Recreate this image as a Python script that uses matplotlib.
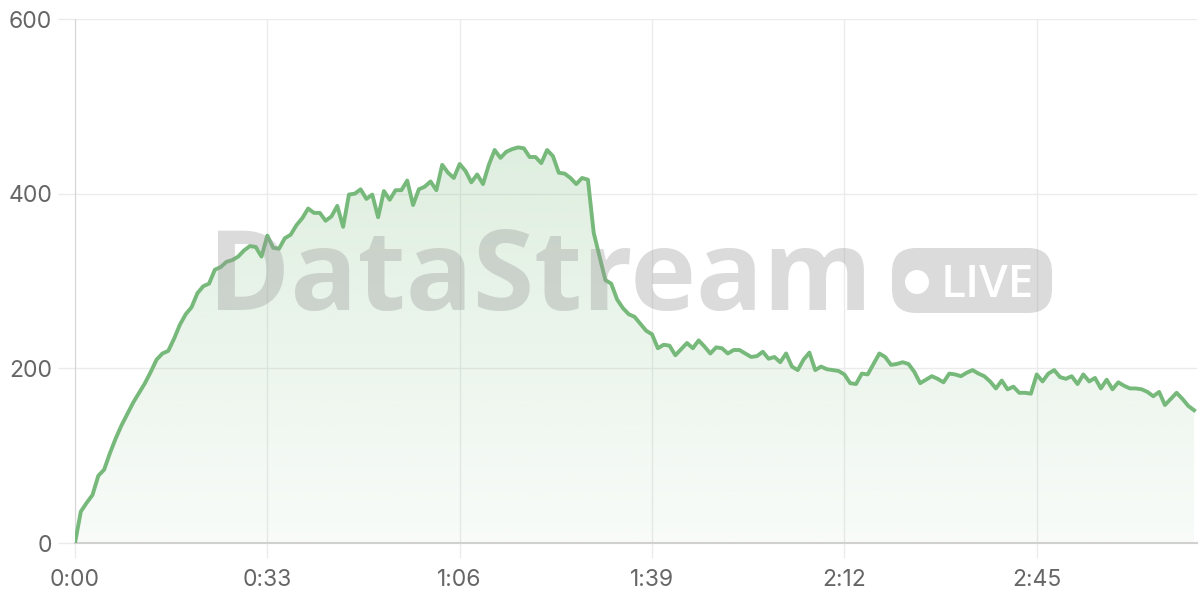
import numpy as np
import matplotlib
matplotlib.use("Agg")
import matplotlib.pyplot as plt
from matplotlib.patches import FancyBboxPatch, Circle
from matplotlib.transforms import IdentityTransform
from matplotlib.ticker import FuncFormatter

# one reading per second, 0:00 .. 3:12
values = [
    0, 36, 46, 55, 77, 84, 103, 120, 135, 148,
    161, 172, 183, 196, 210, 217, 220, 234, 250, 262,
    270, 286, 294, 297, 313, 316, 322, 324, 328, 335,
    340, 339, 328, 352, 338, 337, 349, 353, 364, 372,
    383, 378, 378, 369, 374, 386, 362, 399, 400, 405,
    394, 399, 373, 403, 393, 404, 404, 415, 387, 405,
    408, 414, 404, 433, 424, 418, 434, 426, 413, 422,
    411, 433, 450, 441, 448, 451, 453, 452, 442, 442,
    435, 450, 443, 424, 423, 418, 411, 418, 416, 355,
    328, 301, 297, 279, 269, 262, 259, 251, 243, 239,
    223, 227, 226, 215, 222, 229, 223, 232, 225, 217,
    224, 223, 217, 221, 221, 217, 213, 214, 219, 211,
    213, 207, 217, 202, 198, 210, 218, 198, 202, 199,
    198, 197, 193, 183, 182, 194, 193, 205, 217, 213,
    204, 205, 207, 205, 196, 183, 187, 191, 188, 184,
    194, 193, 191, 195, 198, 194, 191, 185, 177, 186,
    176, 179, 172, 172, 171, 193, 185, 194, 198, 190,
    188, 191, 182, 193, 185, 189, 177, 187, 176, 184,
    180, 177, 177, 176, 173, 168, 173, 158, 165, 172,
    165, 157, 152,
]
seconds = list(range(len(values)))
x_ticks = [0, 33, 66, 99, 132, 165]
y_ticks = [0, 200, 400, 600]

line_color = "#76b97a"
grid_color = "#ebebeb"
label_color = "#666666"

fig = plt.figure(figsize=(12, 6), dpi=100)
ax = fig.add_axes([0.0625, 0.095, 0.935, 0.8733])

ax.set_xlim(0, 192.5)
ax.set_ylim(0, 600)

# gradient fill under the line
fill = ax.fill_between(seconds, values, 0, color="none", lw=0)
grad = np.zeros((256, 1, 4))
grad[:, 0, 0] = 118 / 255
grad[:, 0, 1] = 185 / 255
grad[:, 0, 2] = 122 / 255
grad[:, 0, 3] = np.linspace(0.30, 0.05, 256)
img = ax.imshow(grad, aspect="auto", extent=[0, 192.5, 0, 600],
                origin="upper", zorder=1)
img.set_clip_path(fill.get_paths()[0], transform=ax.transData)

ax.plot(seconds, values, color=line_color, lw=2.8, zorder=5,
        solid_joinstyle="round")

ax.set_xticks(x_ticks)
ax.set_yticks(y_ticks)
ax.xaxis.set_major_formatter(FuncFormatter(lambda t, p: "%d:%02d" % (t // 60, t % 60)))
ax.grid(True, color=grid_color, lw=1, zorder=0)
ax.set_axisbelow(True)
ax.tick_params(width=1, color=grid_color, labelsize=16.5,
               labelcolor=label_color)
ax.tick_params(axis="x", length=11, pad=8)
ax.tick_params(axis="y", length=12, pad=4.5)
for lab in ax.get_xticklabels() + ax.get_yticklabels():
    lab.set_family("Inter")

for s in ["top", "right"]:
    ax.spines[s].set_visible(False)
ax.spines["left"].set_color("#d6d6d6")
ax.spines["bottom"].set_color("#d0d0d0")
ax.spines["bottom"].set_linewidth(1.5)

# watermark
ident = IdentityTransform()
fig.text(208, 600 - 310, "DataStream", transform=ident, fontsize=80,
         fontweight="bold", family="Open Sans", color="#999999",
         alpha=0.35, ha="left", va="baseline", zorder=3)
badge = FancyBboxPatch((892, 600 - 313), 160, 65,
                       boxstyle="round,pad=0,rounding_size=24",
                       transform=ident, facecolor="#999999", alpha=0.35,
                       edgecolor="none", zorder=3)
fig.patches.append(badge)
fig.patches.append(Circle((917, 600 - 282), 12, transform=ident,
                          facecolor="white", edgecolor="none", zorder=4))
fig.text(941, 600 - 297, "LIVE", transform=ident, fontsize=33,
         fontweight="semibold", family="Open Sans", color="white",
         ha="left", va="baseline", zorder=4)

fig.savefig("out.png", dpi=100)
